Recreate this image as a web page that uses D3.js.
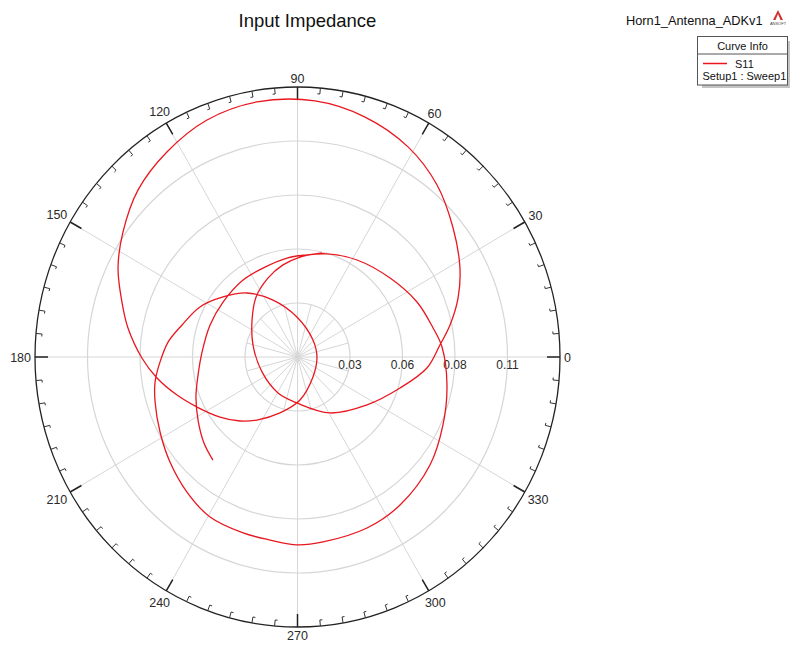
<!DOCTYPE html>
<html>
<head>
<meta charset="utf-8">
<script src="https://cdn.jsdelivr.net/npm/d3@7"></script>
<style>
  body { margin: 0; background: #fff; }
  svg { font-family: "Liberation Sans", Arial, sans-serif; }
</style>
</head>
<body>
<div id="chart"></div>
<script>
// Chart data
const chartTitle = "Input Impedance";
const designName = "Horn1_Antenna_ADKv1";
const legendTitle = "Curve Info";
const legendSeries = "S11";
const legendSetup = "Setup1 : Sweep1";

const radialMax = 0.1375;
const radialTicks = [0.0275, 0.055, 0.0825, 0.11];
const radialLabels = ["0.03", "0.06", "0.08", "0.11"];
const angleTicks = [0, 30, 60, 90, 120, 150, 180, 210, 240, 270, 300, 330];

// S11 as real / imaginary parts, in sweep order
const s11Re = [
  -0.0443, -0.0490, -0.0521, -0.0532, -0.0521, -0.0500, -0.0458, -0.0390, -0.0285, -0.0181,
  -0.0055, 0.0039, 0.0155, 0.0312, 0.0485, 0.0626, 0.0710, 0.0757, 0.0783, 0.0762,
  0.0694, 0.0537, 0.0364, 0.0134, -0.0003, -0.0144, -0.0285, -0.0458, -0.0579, -0.0668,
  -0.0720, -0.0746, -0.0746, -0.0720, -0.0678, -0.0605, -0.0511, -0.0390, -0.0265, -0.0128,
  -0.0003, 0.0081, 0.0102, 0.0081, 0.0013, -0.0092, -0.0212, -0.0301, -0.0406, -0.0526,
  -0.0631, -0.0736, -0.0815, -0.0888, -0.0914, -0.0940, -0.0914, -0.0835, -0.0684, -0.0474,
  -0.0212, 0.0092, 0.0354, 0.0579, 0.0731, 0.0815, 0.0851, 0.0841, 0.0799, 0.0746,
  0.0678, 0.0537, 0.0364, 0.0170, -0.0003, -0.0102, -0.0186, -0.0233, -0.0238, -0.0217,
  -0.0155, -0.0076, 0.0013, 0.0128
];
const s11Im = [
  -0.0525, -0.0438, -0.0321, -0.0204, -0.0092, 0.0025, 0.0163, 0.0280, 0.0392, 0.0453,
  0.0504, 0.0519, 0.0525, 0.0494, 0.0402, 0.0280, 0.0148, 0.0051, -0.0143, -0.0346,
  -0.0550, -0.0754, -0.0871, -0.0942, -0.0957, -0.0932, -0.0896, -0.0815, -0.0688, -0.0535,
  -0.0382, -0.0229, -0.0127, -0.0025, 0.0076, 0.0163, 0.0255, 0.0306, 0.0326, 0.0290,
  0.0204, 0.0087, 0.0000, -0.0102, -0.0219, -0.0285, -0.0321, -0.0326, -0.0306, -0.0255,
  -0.0194, -0.0107, -0.0005, 0.0148, 0.0250, 0.0453, 0.0637, 0.0851, 0.1044, 0.1207,
  0.1299, 0.1304, 0.1222, 0.1070, 0.0876, 0.0657, 0.0453, 0.0300, 0.0163, 0.0061,
  -0.0056, -0.0158, -0.0244, -0.0285, -0.0234, -0.0183, -0.0076, 0.0061, 0.0188, 0.0306,
  0.0402, 0.0469, 0.0509, 0.0530
];

function drawChart() {
  const width = 790, height = 646;
  const cx = 297.5, cy = 357, rx = 262.5, ry = 270;

  const svg = d3.select("#chart").append("svg")
    .attr("width", width)
    .attr("height", height);

  // Scales: real part -> x, imaginary part -> y
  const x = d3.scaleLinear().domain([-radialMax, radialMax]).range([cx - rx, cx + rx]);
  const y = d3.scaleLinear().domain([-radialMax, radialMax]).range([cy + ry, cy - ry]);
  const rad = a => a * Math.PI / 180;
  const polar = (deg, v) => [x(v * Math.cos(rad(deg))), y(v * Math.sin(rad(deg)))];

  const gridColor = "#d6d6d6";

  // Grid circles
  svg.selectAll(".grid-circle")
    .data(radialTicks)
    .enter().append("ellipse")
    .attr("cx", x(0)).attr("cy", y(0))
    .attr("rx", d => x(d) - x(0))
    .attr("ry", d => y(0) - y(d))
    .attr("fill", "none")
    .attr("stroke", gridColor)
    .attr("stroke-width", 1.2);

  // Short spokes every 15 deg near the centre
  svg.selectAll(".spoke-inner")
    .data(d3.range(15, 360, 30))
    .enter().append("line")
    .attr("x1", x(0)).attr("y1", y(0))
    .attr("x2", d => polar(d, radialTicks[0])[0])
    .attr("y2", d => polar(d, radialTicks[0])[1])
    .attr("stroke", gridColor)
    .attr("stroke-width", 1);

  // Main spokes every 30 deg
  svg.selectAll(".spoke")
    .data(angleTicks)
    .enter().append("line")
    .attr("x1", x(0)).attr("y1", y(0))
    .attr("x2", d => polar(d, radialMax)[0])
    .attr("y2", d => polar(d, radialMax)[1])
    .attr("stroke", gridColor)
    .attr("stroke-width", 1);

  // Outer ring
  svg.append("ellipse")
    .attr("cx", x(0)).attr("cy", y(0))
    .attr("rx", x(radialMax) - x(0))
    .attr("ry", y(0) - y(radialMax))
    .attr("fill", "none")
    .attr("stroke", "#222")
    .attr("stroke-width", 1.3);

  // Minor ticks every 5 deg
  const minor = d3.range(0, 360, 5).filter(d => d % 30 !== 0);
  minor.forEach(d => {
    const [px, py] = polar(d, radialMax);
    const c = Math.cos(rad(d)), s = Math.sin(rad(d));
    const ix = px - 6 * c, iy = py + 6 * s;
    svg.append("line")
      .attr("x1", px).attr("y1", py).attr("x2", ix).attr("y2", iy)
      .attr("stroke", "#333").attr("stroke-width", 1);
    svg.append("line")
      .attr("x1", ix).attr("y1", iy)
      .attr("x2", ix - 2.5 * s).attr("y2", iy - 2.5 * c)
      .attr("stroke", "#333").attr("stroke-width", 1);
  });

  // Major ticks every 30 deg
  angleTicks.forEach(d => {
    const [px, py] = polar(d, radialMax);
    const c = Math.cos(rad(d)), s = Math.sin(rad(d));
    svg.append("line")
      .attr("x1", px).attr("y1", py)
      .attr("x2", px - 13 * c).attr("y2", py + 13 * s)
      .attr("stroke", "#222").attr("stroke-width", 1.5);
  });

  // Angle labels
  angleTicks.forEach(d => {
    const [px, py] = polar(d, radialMax);
    const c = Math.cos(rad(d)), s = Math.sin(rad(d));
    const t = svg.append("text")
      .attr("font-size", "12.5px")
      .attr("fill", "#2a2a2a")
      .attr("text-anchor", "middle")
      .text(String(d));
    const w = t.node().getComputedTextLength();
    const off = Math.abs(c) * w / 2 + Math.abs(s) * 4.6 + 4;
    t.attr("x", px + off * c).attr("y", py - off * s + 4.5);
  });

  // Radial labels
  svg.selectAll(".r-label")
    .data(radialTicks)
    .enter().append("text")
    .attr("x", d => x(d))
    .attr("y", y(0) + 12)
    .attr("text-anchor", "middle")
    .attr("font-size", "12px")
    .attr("fill", "#2a2a2a")
    .text((d, i) => radialLabels[i]);

  // S11 trace
  const pts = s11Re.map((r, i) => [r, s11Im[i]]);
  const line = d3.line().x(d => x(d[0])).y(d => y(d[1])).curve(d3.curveCatmullRom.alpha(0.5));
  svg.append("path")
    .datum(pts)
    .attr("d", line)
    .attr("fill", "none")
    .attr("stroke", "#e8171f")
    .attr("stroke-width", 1.3);

  // Title
  svg.append("text")
    .attr("x", 307.5).attr("y", 27)
    .attr("text-anchor", "middle")
    .attr("font-size", "18.5px")
    .attr("fill", "#111")
    .text(chartTitle);

  svg.append("text")
    .attr("x", 626).attr("y", 25)
    .attr("font-size", "12.8px")
    .attr("fill", "#111")
    .text(designName);

  // Small Ansoft logo
  const logo = svg.append("g").attr("transform", "translate(778,10)");
  logo.append("path").attr("d", "M0,0 L-5,10 L5,10 Z").attr("fill", "#d23030");
  logo.append("path").attr("d", "M0,4 L-2.5,10 L2.5,10 Z").attr("fill", "#fff");
  logo.append("text").attr("x", 0).attr("y", 15).attr("text-anchor", "middle")
    .attr("font-size", "4px").attr("fill", "#444").text("ANSOFT");

  // Legend box
  const lg = svg.append("g");
  lg.append("rect").attr("x", 702).attr("y", 41).attr("width", 88).attr("height", 47).attr("fill", "#c4c4c4");
  lg.append("rect").attr("x", 697.5).attr("y", 36.5).attr("width", 90).attr("height", 48.5)
    .attr("fill", "#fff").attr("stroke", "#555").attr("stroke-width", 1);
  lg.append("line").attr("x1", 697.5).attr("x2", 787.5).attr("y1", 54).attr("y2", 54)
    .attr("stroke", "#555").attr("stroke-width", 1);
  lg.append("text").attr("x", 742.5).attr("y", 50).attr("text-anchor", "middle")
    .attr("font-size", "11px").attr("fill", "#111").text(legendTitle);
  lg.append("line").attr("x1", 703).attr("x2", 727).attr("y1", 63.5).attr("y2", 63.5)
    .attr("stroke", "#e8171f").attr("stroke-width", 1.5);
  lg.append("text").attr("x", 735).attr("y", 68).attr("font-size", "11px").attr("fill", "#111").text(legendSeries);
  lg.append("text").attr("x", 702.5).attr("y", 80).attr("font-size", "11px").attr("fill", "#111").text(legendSetup);
}

document.addEventListener("DOMContentLoaded", drawChart);
</script>
</body>
</html>
